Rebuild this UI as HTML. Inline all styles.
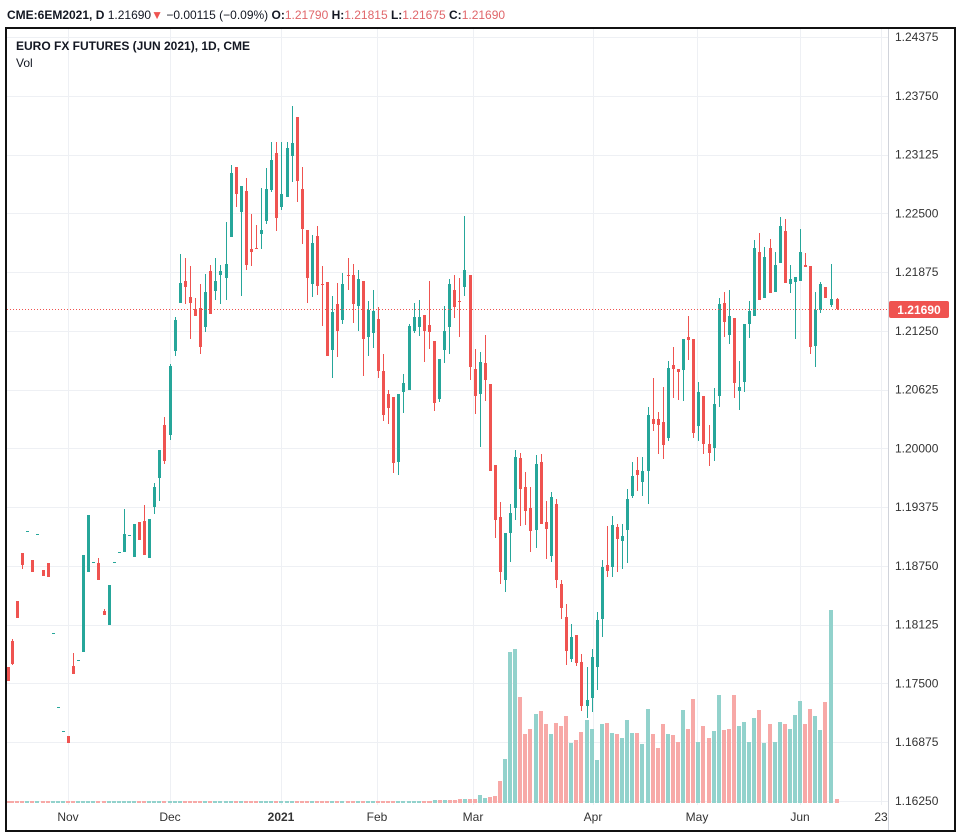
<!DOCTYPE html>
<html><head><meta charset="utf-8"><style>
html,body{margin:0;padding:0;background:#fff;}
svg{display:block;font-family:"Liberation Sans",sans-serif;}
</style></head><body>
<svg id="s" width="961" height="838" viewBox="0 0 961 838" xmlns="http://www.w3.org/2000/svg">
<rect width="961" height="838" fill="#fff"/>
<g id="grid" stroke="#eef0f4" stroke-width="1"></g>
<g id="vol"></g>
<g id="cdl"></g>
<line x1="7" y1="309.5" x2="888" y2="309.5" stroke="#ef5350" stroke-width="1" stroke-dasharray="1,2"/>
<line x1="888.5" y1="29" x2="888.5" y2="830" stroke="#d0d3da" stroke-width="1"/>
<g id="axis" font-size="12" fill="#333"></g>
<rect x="889" y="301" width="60" height="17" rx="2" fill="#ef5350"/>
<text x="919" y="314" font-size="12" font-weight="bold" fill="#fff" text-anchor="middle">1.21690</text>
<rect x="6" y="28" width="949" height="803" fill="none" stroke="#111" stroke-width="2"/>
<text x="7" y="19" font-size="12"><tspan font-weight="bold" fill="#131722">CME:6EM2021, D</tspan><tspan fill="#131722"> 1.21690</tspan><tspan fill="#ef5350">▼</tspan><tspan fill="#131722"> −0.00115 (−0.09%) </tspan><tspan font-weight="bold" fill="#131722">O:</tspan><tspan fill="#e0666a">1.21790 </tspan><tspan font-weight="bold" fill="#131722">H:</tspan><tspan fill="#e0666a">1.21815 </tspan><tspan font-weight="bold" fill="#131722">L:</tspan><tspan fill="#e0666a">1.21675 </tspan><tspan font-weight="bold" fill="#131722">C:</tspan><tspan fill="#e0666a">1.21690</tspan></text>
<text x="16" y="50" font-size="12" font-weight="bold" fill="#131722">EURO FX FUTURES (JUN 2021), 1D, CME</text>
<text x="16" y="67" font-size="12" fill="#131722">Vol</text>
</svg>
<script>
var NS="http://www.w3.org/2000/svg";
function el(p,t,a,txt){var e=document.createElementNS(NS,t);for(var k in a)e.setAttribute(k,a[k]);if(txt!==undefined)e.textContent=txt;document.getElementById(p).appendChild(e);return e;}
var prices=["1.24375","1.23750","1.23125","1.22500","1.21875","1.21250","1.20625","1.20000","1.19375","1.18750","1.18125","1.17500","1.16875","1.16250"];
for(var i=0;i<prices.length;i++){var y=37+i*58.77;
 el("grid","line",{x1:7,x2:888,y1:Math.round(y)+0.5,y2:Math.round(y)+0.5});
 el("axis","text",{x:895,y:y+4},prices[i]);}
var tl=[[68,"Nov"],[170,"Dec"],[281,"2021"],[377,"Feb"],[473,"Mar"],[593,"Apr"],[697,"May"],[800,"Jun"],[881,"23"]];
tl.forEach(function(t){ if(t[0]<888) el("grid","line",{x1:t[0]+0.5,x2:t[0]+0.5,y1:29,y2:805});
 var a=el("axis","text",{x:t[0],y:821,"text-anchor":"middle"},t[1]); if(t[1]=="2021")a.setAttribute("font-weight","bold");});
// x, bodyTop, bodyBot, wickTop, wickBot, color
var C=[
[8,667,681,667,681,'r'],[12,641,664,639,665,'r'],[17,601,618,601,618,'r'],[22,553,565,553,569,'r'],[27,531,531,531,531,'g'],
[32,560,572,560,572,'r'],[37,534,534,534,534,'g'],[43,570,576,570,576,'r'],[48,563,577,563,577,'r'],[53,633,633,633,633,'g'],
[58,707,707,707,707,'g'],[63,731,731,731,731,'g'],[68,736,743,736,743,'r'],[73,666,674,653,674,'r'],[78,660,660,660,660,'g'],
[83,555,652,555,652,'g'],[88,515,572,515,572,'g'],[93,562,562,562,562,'g'],[98,563,580,558,580,'r'],[104,611,615,609,615,'r'],
[109,585,625,585,625,'g'],[114,562,562,562,562,'g'],[119,552,552,552,552,'g'],[124,534,552,509,552,'g'],[129,535,535,535,535,'g'],
[134,524,557,524,557,'g'],[139,522,540,522,540,'r'],[144,521,555,505,555,'r'],[149,519,558,519,558,'g'],[154,487,507,483,514,'g'],
[159,450,478,450,501,'g'],[164,425,461,417,464,'r'],[170,366,435,364,440,'g'],[175,320,351,317,356,'g'],[180,283,303,254,303,'g'],
[185,281,287,258,304,'r'],[190,297,303,266,339,'r'],[195,309,316,298,316,'r'],[200,308,347,284,354,'r'],[205,292,327,274,332,'g'],
[210,271,314,265,314,'r'],[215,281,291,258,300,'g'],[220,271,275,265,304,'g'],[226,264,278,222,300,'g'],
[231,173,237,165,237,'g'],[236,167,194,167,207,'r'],[241,186,212,186,296,'g'],[246,191,265,178,270,'r'],[251,249,252,214,266,'r'],
[256,248,249,225,249,'r'],[261,230,234,188,249,'g'],[266,189,221,168,224,'g'],[271,160,190,142,192,'g'],[276,153,218,142,231,'r'],
[281,194,207,142,210,'g'],[287,148,197,142,197,'g'],[292,143,156,106,182,'g'],[297,117,181,117,202,'r'],[302,189,229,167,244,'r'],
[307,230,278,230,303,'r'],[312,243,284,235,297,'g'],[317,236,286,226,295,'r'],[322,284,285,266,326,'r'],[327,282,356,282,356,'r'],
[332,312,350,296,378,'g'],[337,304,331,283,357,'r'],[342,284,320,273,324,'g'],[348,275,276,258,290,'r'],[353,275,304,264,323,'r'],
[358,279,306,270,331,'g'],[363,281,339,281,376,'r'],[368,310,337,301,356,'g'],[373,311,333,290,348,'g'],[378,319,371,307,378,'r'],
[383,371,415,354,421,'r'],[388,394,408,390,424,'r'],[393,397,463,397,473,'r'],[398,394,462,394,475,'g'],[403,383,392,374,413,'g'],
[409,326,390,324,390,'g'],[414,317,331,303,333,'g'],[419,317,327,300,336,'g'],[424,315,331,315,362,'r'],[429,325,332,281,349,'r'],
[434,341,403,341,411,'r'],[439,359,399,359,402,'g'],[444,331,350,306,363,'g'],[449,284,327,279,354,'g'],[454,290,307,275,318,'r'],
[459,301,302,278,337,'r'],[464,270,287,216,296,'g'],[470,275,367,275,380,'r'],[475,369,396,349,414,'r'],[480,362,394,352,447,'g'],
[485,363,380,335,401,'r'],[490,384,471,384,471,'r'],[495,465,520,465,538,'r'],[500,517,572,502,584,'r'],[505,533,580,533,592,'g'],
[510,513,533,504,562,'g'],[515,457,508,450,520,'g'],[520,458,489,453,526,'r'],[525,487,511,472,525,'r'],[530,508,531,487,552,'r'],
[536,464,530,455,548,'g'],[541,462,524,454,524,'r'],[546,522,529,501,559,'r'],[551,497,556,492,562,'g'],[556,504,580,499,588,'r'],
[561,584,608,580,619,'r'],[566,617,651,604,665,'r'],[571,637,659,624,662,'g'],[576,635,663,635,666,'r'],[581,662,706,654,711,'r'],
[587,700,706,667,718,'g'],[592,657,698,649,712,'g'],[597,620,667,612,690,'g'],[602,567,619,560,637,'g'],[607,565,571,526,577,'r'],
[612,525,567,516,577,'g'],[617,527,539,524,572,'r'],[622,536,541,524,569,'g'],[627,499,530,489,563,'g'],[632,476,496,462,498,'g'],
[637,470,475,457,491,'r'],[642,471,482,457,496,'g'],[648,415,471,407,504,'g'],[653,419,424,378,431,'r'],[658,419,425,412,454,'r'],
[663,422,445,387,459,'r'],[668,368,438,361,441,'g'],[673,365,369,347,398,'r'],[678,369,372,369,400,'r'],
[683,339,370,339,401,'g'],[688,337,340,316,360,'r'],[693,339,433,339,438,'r'],[698,392,426,382,441,'g'],[703,396,444,396,454,'r'],
[709,444,453,425,466,'r'],[714,404,448,388,461,'g'],[719,304,396,298,407,'g'],[724,303,322,292,337,'r'],[729,316,335,290,344,'g'],
[734,318,383,318,398,'r'],[739,387,391,361,410,'g'],[744,324,382,324,392,'g'],[749,311,324,301,338,'g'],[754,248,316,240,316,'g'],
[759,252,300,233,300,'r'],[764,257,298,247,298,'g'],[770,248,293,239,293,'r'],[775,265,292,252,292,'g'],[780,226,263,217,263,'g'],
[785,231,283,219,283,'r'],[790,279,284,265,293,'g'],[795,277,282,277,339,'g'],[800,252,281,229,281,'g'],[805,265,267,253,267,'r'],
[810,266,347,266,354,'r'],[815,310,346,292,367,'g'],[820,284,310,282,313,'g'],[825,287,298,287,298,'r'],[831,299,305,264,307,'g'],
[837,299,309,298,310,'r']];
C.forEach(function(c){var col=c[5]=='g'?'#26a69a':'#ef5350';
 el("cdl","rect",{x:c[0],y:c[3],width:1,height:Math.max(1,c[4]-c[3]),fill:col});
 el("cdl","rect",{x:c[0]-1,y:c[1],width:3,height:Math.max(1,c[2]-c[1]),fill:col});});
var V=[[500,781,'r'],[505,759,'g'],[510,652,'g'],[515,649,'g'],[520,697,'r'],[525,734,'r'],[530,729,'r'],[536,714,'g'],[541,711,'r'],[546,724,'r'],
[551,734,'g'],[556,723,'r'],[561,726,'r'],[566,716,'r'],[571,743,'g'],[576,740,'r'],[581,732,'r'],[587,720,'g'],[592,729,'g'],[597,760,'g'],
[602,724,'g'],[607,723,'r'],[612,733,'g'],[617,734,'r'],[622,738,'g'],[627,720,'g'],[632,733,'g'],[637,733,'r'],[642,744,'g'],[648,709,'g'],
[653,734,'r'],[658,748,'r'],[663,724,'r'],[668,734,'g'],[673,735,'r'],[678,742,'r'],[683,710,'g'],[688,729,'r'],[693,699,'r'],[698,742,'g'],
[703,726,'r'],[709,738,'r'],[714,731,'g'],[719,695,'g'],[724,730,'r'],[729,729,'r'],[734,695,'r'],[739,726,'g'],[744,722,'g'],[749,742,'g'],
[754,718,'g'],[759,710,'r'],[764,743,'g'],[770,724,'r'],[775,742,'g'],[780,722,'g'],[785,724,'r'],[790,729,'g'],[795,715,'g'],[800,701,'g'],
[805,724,'r'],[810,709,'r'],[815,716,'g'],[820,730,'g'],[825,702,'r'],[831,610,'g'],[837,799,'r'],
[495,796,'r'],[490,797,'r'],[485,798,'g'],[480,795,'g'],[475,799,'r'],[470,799,'r'],[465,799,'g'],[460,799,'r'],[455,800,'r'],[450,800,'r'],[445,800,'g'],[440,800,'r'],[435,800,'g'],[430,801,'r']];
C.forEach(function(c){ if(c[0]<430) V.push([c[0],801,c[5]]); });
V.forEach(function(v){var col=v[2]=='g'?'#92d2cc':'#f7a9a7';
 el("vol","rect",{x:v[0]-2,y:v[1],width:4,height:Math.max(1,803-v[1]),fill:col});});
</script>
</body></html>
